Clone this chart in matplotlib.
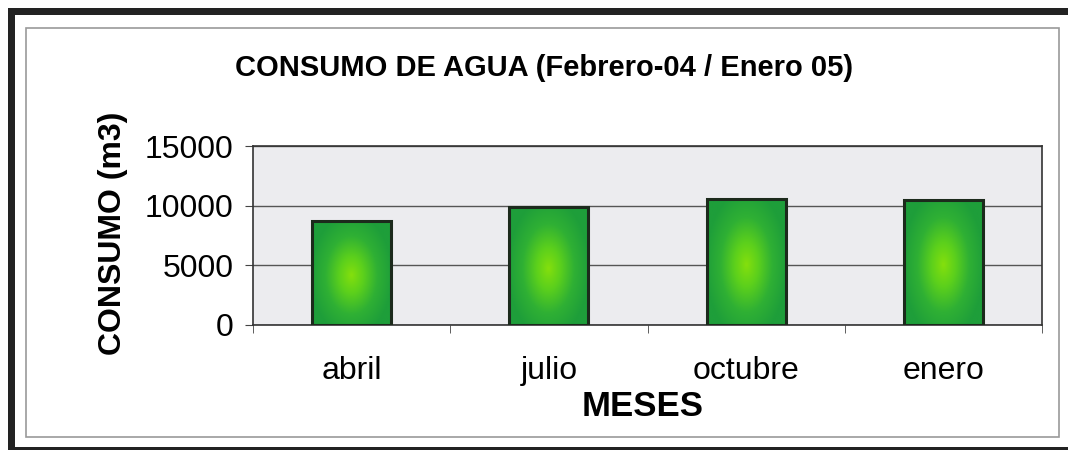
import matplotlib
matplotlib.use('Agg')
import matplotlib.pyplot as plt
import numpy as np
from matplotlib.patches import Rectangle
from matplotlib.colors import LinearSegmentedColormap

# Datos de consumo de agua
meses = ['abril', 'julio', 'octubre', 'enero']
consumo = [8700, 9850, 10550, 10500]
yticks = [0, 5000, 10000, 15000]

plt.rcParams['font.family'] = ['Liberation Sans', 'DejaVu Sans']

W, H = 1068, 450
fig = plt.figure(figsize=(W / 100, H / 100), dpi=100)
fig.patch.set_facecolor('white')

# marcos de la figura (negro grueso + gris fino)
def px_rect(x0, y0, x1, y1, **kw):
    fig.patches.append(Rectangle((x0 / W, 1 - y1 / H), (x1 - x0) / W, (y1 - y0) / H,
                                 transform=fig.transFigure, **kw))

px_rect(8, 8, 15, 450, facecolor='#222222', edgecolor='none')
px_rect(8, 8, 1068, 15, facecolor='#222222', edgecolor='none')
px_rect(8, 447, 1068, 450, facecolor='#222222', edgecolor='none')
px_rect(26, 28, 1059, 437, facecolor='none', edgecolor='#9a9a9a', linewidth=1.2)

ax = fig.add_axes([253 / W, 1 - 325 / H, (1042 - 253) / W, (325 - 146) / H])
ax.set_facecolor('#ececef')

x = np.arange(len(meses))
ancho = 0.4
barras = ax.bar(x, consumo, width=ancho, color='none', edgecolor='#1c2a1c',
                linewidth=2.2, zorder=3)

# degradado radial verde en cada barra
cmap = LinearSegmentedColormap.from_list('verde', ['#86e00c', '#5cd01c', '#2fb034', '#1e9e3a'])
for b in barras:
    x0, w = b.get_x(), b.get_width()
    h = b.get_height()
    gx = np.linspace(-1, 1, 60)
    gy = np.linspace(0, 1, 120)
    GX, GY = np.meshgrid(gx, gy)
    cy = 0.48
    r = np.sqrt((GX / 1.05) ** 2 + ((GY - cy) / 0.6) ** 2)
    im = ax.imshow(np.clip(r, 0, 1) ** 0.9, cmap=cmap, vmin=0, vmax=1, origin='lower',
                   extent=[x0, x0 + w, 0, h], aspect='auto', zorder=2,
                   interpolation='bilinear')
    im.set_clip_path(b)

ax.set_xlim(-0.5, len(meses) - 0.5)
ax.set_ylim(0, 15000)
ax.set_yticks(yticks)
ax.set_yticklabels([str(v) for v in yticks], fontsize=23)
ax.set_xticks(x)
ax.set_xticklabels(meses, fontsize=23)
ax.set_xticks(np.arange(-0.5, len(meses)), minor=True)
ax.tick_params(axis='x', which='major', length=0, pad=22)
ax.tick_params(axis='x', which='minor', length=6, color='#444444')
ax.tick_params(axis='y', length=6, color='#444444', pad=8)
ax.grid(axis='y', color='#555555', linewidth=1, zorder=1)
ax.set_axisbelow(True)
for s in ax.spines.values():
    s.set_color('#333333')
    s.set_linewidth(1.2)

fig.text(544 / W, 1 - 68 / H, 'CONSUMO DE AGUA (Febrero-04 / Enero 05)',
         ha='center', va='center', fontsize=21, fontweight='bold')
fig.text(113 / W, 1 - 233 / H, 'CONSUMO (m3)', rotation=90, ha='center', va='center',
         fontsize=23, fontweight='bold')
fig.text(643 / W, 1 - 407 / H, 'MESES', ha='center', va='center',
         fontsize=25, fontweight='bold')

fig.savefig('out.png', dpi=100)
